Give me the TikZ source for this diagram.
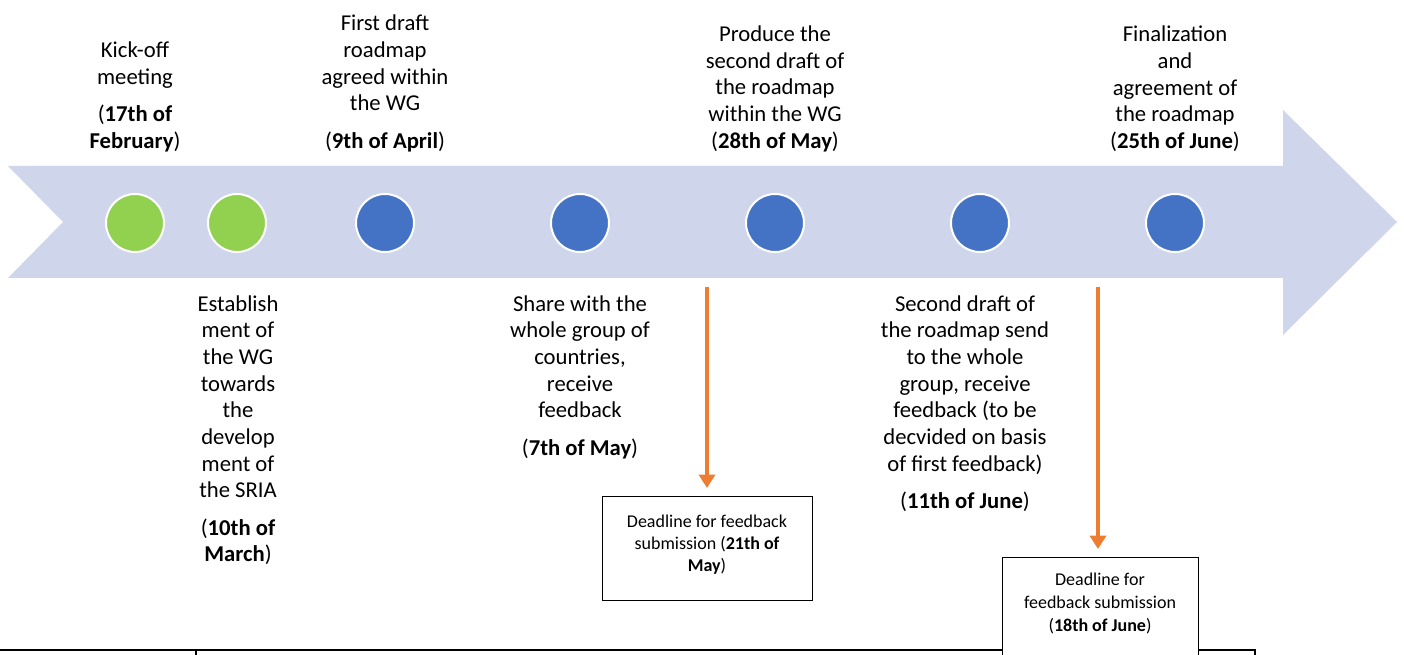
\documentclass[tikz,border=0pt]{standalone}
\usepackage{fontspec}
\setmainfont{Carlito}
\usetikzlibrary{arrows.meta}
\definecolor{bandblue}{HTML}{CFD5EA}
\definecolor{msgreen}{HTML}{92D050}
\definecolor{msblue}{HTML}{4472C4}
\definecolor{msorange}{HTML}{ED7D31}
\tikzset{
  milestone/.style={circle, draw=white, line width=1.5pt, minimum size=43.5pt, inner sep=0pt},
  steptext/.style={align=center, inner sep=0pt, font=\fontsize{17}{20}\selectfont},
  deadline/.style={draw=black, line width=0.75pt, fill=white, align=center, minimum width=157.5pt,
    inner ysep=10pt, font=\fontsize{13.5}{16.5}\selectfont},
  feedback/.style={msorange, line width=3pt, -{Triangle[length=10pt,width=12pt]}, shorten >=6pt}
}
\begin{document}
\begin{tikzpicture}[x=0.75pt,y=-0.75pt]
\useasboundingbox (0,0) rectangle (1404,655);
% timeline band
\fill[bandblue] (8,166) -- (1283,166) -- (1283,110) -- (1397,222) -- (1283,335) -- (1283,278) -- (8,278) -- (63,222) -- cycle;
% milestones
\node[milestone, fill=msgreen] (m1) at (135,223) {};
\node[milestone, fill=msgreen] (m2) at (237,223) {};
\foreach \x/\n in {385/3,580/4,775/5,980/6,1175/7}
  \node[milestone, fill=msblue] (m\n) at (\x,223) {};
% texts above
\node[steptext, anchor=south] (t1) at (135,152) {Kick-off\\meeting\\[8pt](\textbf{17th of}\\\textbf{February})};
\node[steptext, anchor=south] (t3) at (385,152) {First draft\\roadmap\\agreed within\\the WG\\[8pt](\textbf{9th of April})};
\node[steptext, anchor=south] (t5) at (775,152) {Produce the\\second draft of\\the roadmap\\within the WG\\(\textbf{28th of May})};
\node[steptext, anchor=south] (t7) at (1175,152) {Finalization\\and\\agreement of\\the roadmap\\(\textbf{25th of June})};
% texts below
\node[steptext, anchor=north] (t2) at (238,295) {Establish\\ment of\\the WG\\towards\\the\\develop\\ment of\\the SRIA\\[8pt](\textbf{10th of}\\\textbf{March})};
\node[steptext, anchor=north] (t4) at (580,295) {Share with the\\whole group of\\countries,\\receive\\feedback\\[8pt](\textbf{7th of May})};
\node[steptext, anchor=north] (t6) at (965,295) {Second draft of\\the roadmap send\\to the whole\\group, receive\\feedback (to be\\decvided on basis\\of first feedback)\\[8pt](\textbf{11th of June})};
% table border
\draw[line width=1.5pt] (0,650) -- (1256,650);
\draw[line width=1.5pt] (196,650) -- (196,662);
\draw[line width=1.5pt] (1255,650) -- (1255,662);
% deadlines
\node[deadline, anchor=north, minimum height=78pt] (d1) at (707,496) {Deadline for feedback\\submission (\textbf{21th of}\\\textbf{May})\\[-9pt]\mbox{}};
\node[deadline, anchor=north, minimum width=147pt, inner ysep=11.5pt, text depth=40pt,
  font=\fontsize{13.5}{17.2}\selectfont] (d2) at (1100,557) {Deadline for\\feedback submission\\(\textbf{18th of June})};
\coordinate (f1) at (707,287);
\coordinate (f2) at (1098,287);
\draw[feedback] (f1) -- (d1.north);
\draw[feedback] (f2) -- (d2.north -| f2);
\end{tikzpicture}
\end{document}
